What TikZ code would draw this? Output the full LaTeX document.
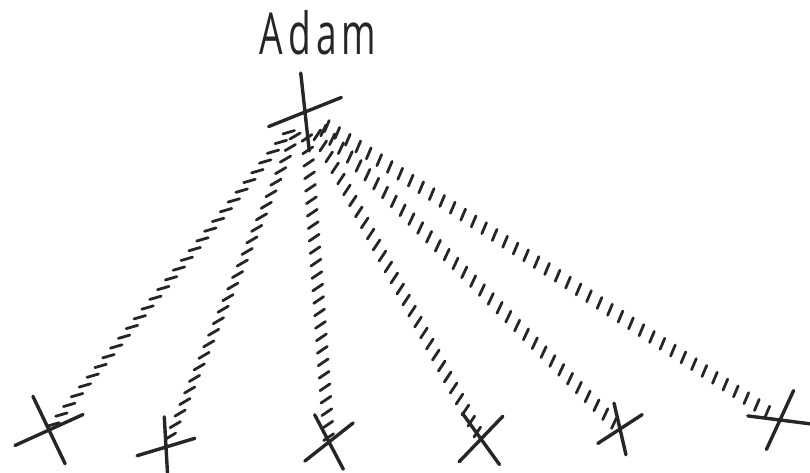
\documentclass[tikz,border=0pt]{standalone}
\usepackage{fontspec}
\setmainfont{Open Sans}
\usetikzlibrary{shapes.misc,decorations.markings}
\definecolor{ink}{HTML}{262626}

\begin{document}
\begin{tikzpicture}[
  x=1pt, y=-1pt,
  xcross/.style={
    cross out,
    draw=ink,
    line width=3.4pt,
    line cap=round,
    inner sep=0pt
  },
  hatch/.style={
    postaction={decorate, decoration={markings,
      mark=between positions 26pt and -4pt step 12.5pt with
        {\draw[ink, line width=2.8pt, line cap=round] (#1:-6pt) -- (#1:6pt);}}}
  }
]
\useasboundingbox (0,0) rectangle (810,473);

% Name
\node[text=ink, font=\fontsize{58}{58}\selectfont\addfontfeature{LetterSpace=14}] (title) at (318,33) {\scalebox{0.64}[1]{Adam}};

% Ancestor
\node[xcross, minimum width=44pt, minimum height=59pt, rotate=-31] (adam) at (305,112) {};

% Descendants
\node[xcross, minimum width=50pt, minimum height=49pt, rotate=-20] (k1) at (49,430) {};
\node[xcross, minimum width=34pt, minimum height=44pt, rotate=-35] (k2) at (166,447) {};
\node[xcross, minimum width=36pt, minimum height=44pt, rotate=-12] (k3) at (329,442) {};
\node[xcross, minimum width=37pt, minimum height=45pt, rotate=-4] (k4) at (481,439) {};
\node[xcross, minimum width=27pt, minimum height=40pt, rotate=-22] (k5) at (620,429) {};
\node[xcross, minimum width=49pt, minimum height=35pt, rotate=29] (k6) at (780,420) {};

% Lines of descent
\path[hatch=145] (adam.center) -- (k1.center);
\path[hatch=143] (adam.center) -- (k2.center);
\path[hatch=120] (adam.center) -- (k3.center);
\path[hatch=118] (adam.center) -- (k4.center);
\path[hatch=110] (adam.center) -- (k5.center);
\path[hatch=100] (adam.center) -- (k6.center);

\end{tikzpicture}
\end{document}
